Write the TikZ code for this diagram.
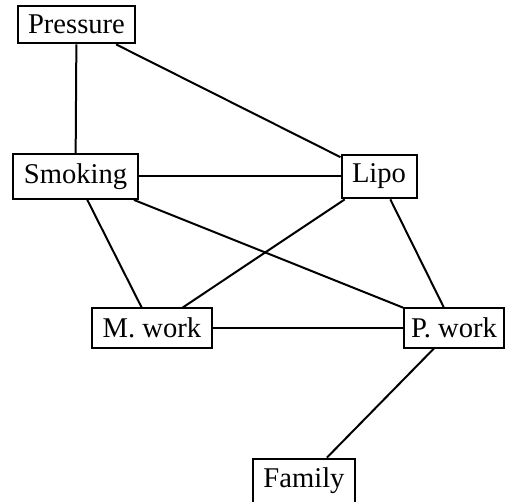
\documentclass[tikz,border=0pt]{standalone}
\usepackage{fontspec}
\setmainfont{Liberation Serif}
\begin{document}
\begin{tikzpicture}[x=0.5pt,y=-0.5pt,
  box/.style={draw, line width=1pt, inner xsep=5.25pt, inner ysep=4.7pt,
    font=\fontsize{14.3}{17}\selectfont},
  link/.style={line width=1pt}]
\useasboundingbox (0,0) rectangle (506,501);
\node[box] (pressure) at (76.5,24.5) {Pressure};
\node[box] (smoking) at (75.5,176.5) {Smoking};
\node[box] (lipo) at (379,176.5) {Lipo};
\node[box] (mwork) at (152,328) {M. work};
\node[box, inner xsep=3.5pt] (pwork) at (454,328) {P. work};
\node[box] (family) at (304,481) {Family};
\draw[link] (pressure) -- (smoking);
\draw[link] (pressure) -- (lipo);
\draw[link] (smoking) -- (lipo);
\draw[link] (smoking) -- (mwork);
\draw[link] (smoking) -- (pwork);
\draw[link] (lipo) -- (mwork);
\draw[link] (lipo) -- (pwork);
\draw[link] (mwork) -- (pwork);
\draw[link] (pwork) -- (family);
\end{tikzpicture}
\end{document}
